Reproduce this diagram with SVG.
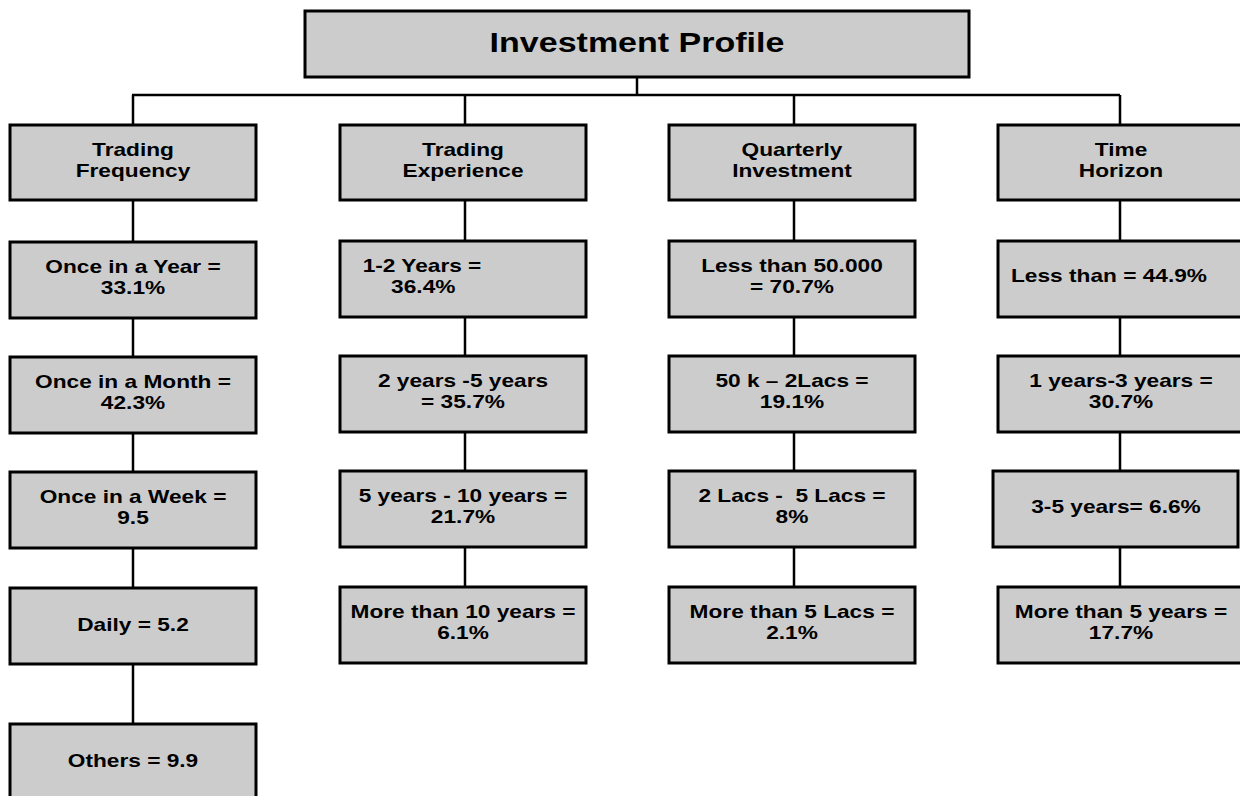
<svg xmlns="http://www.w3.org/2000/svg" width="1240" height="796" viewBox="0 0 1240 796">
  <style>
    .box { fill: #cccccc; stroke: #000000; stroke-width: 3; }
    .lbl { font-family: "Liberation Sans", Arial, sans-serif; font-weight: bold; font-size: 18px; text-anchor: middle; fill: #000000; }
    .title { font-size: 27px; }
    .conn { fill: none; stroke: #000000; stroke-width: 2.5; }
  </style>
  <rect width="1240" height="796" fill="#ffffff"/>

  <g id="connectors" class="conn">
    <path d="M637 77 V95 M132 95 H1120 M133 95 V125 M465 95 V125 M794 95 V125 M1120 95 V125"/>
    <path d="M133 200 V242 M133 318 V357 M133 433 V472 M133 548 V588 M133 664 V724"/>
    <path d="M465 200 V241 M465 317 V356 M465 432 V471 M465 547 V587"/>
    <path d="M794 200 V241 M794 317 V356 M794 432 V471 M794 547 V587"/>
    <path d="M1120 200 V241 M1120 317 V356 M1120 432 V471 M1120 547 V587"/>
  </g>

  <g id="root">
    <rect class="box" x="305" y="11" width="664" height="66"/>
    <text class="lbl title" transform="translate(637 0) scale(1.26 1)"><tspan x="0" y="52">Investment Profile</tspan></text>
  </g>

  <!-- Trading Frequency column -->
  <g id="trading-frequency">
    <rect class="box" x="10" y="125" width="246" height="75"/>
    <text class="lbl" transform="translate(133 0) scale(1.26 1)"><tspan x="0" y="156">Trading</tspan><tspan x="0" y="177">Frequency</tspan></text>
  </g>
  <g id="tf-year">
    <rect class="box" x="10" y="242" width="246" height="76"/>
    <text class="lbl" transform="translate(133 0) scale(1.26 1)"><tspan x="0" y="273">Once in a Year =</tspan><tspan x="0" y="294">33.1%</tspan></text>
  </g>
  <g id="tf-month">
    <rect class="box" x="10" y="357" width="246" height="76"/>
    <text class="lbl" transform="translate(133 0) scale(1.26 1)"><tspan x="0" y="388">Once in a Month =</tspan><tspan x="0" y="409">42.3%</tspan></text>
  </g>
  <g id="tf-week">
    <rect class="box" x="10" y="472" width="246" height="76"/>
    <text class="lbl" transform="translate(133 0) scale(1.26 1)"><tspan x="0" y="503">Once in a Week =</tspan><tspan x="0" y="524">9.5</tspan></text>
  </g>
  <g id="tf-daily">
    <rect class="box" x="10" y="588" width="246" height="76"/>
    <text class="lbl" transform="translate(133 0) scale(1.26 1)"><tspan x="0" y="631">Daily = 5.2</tspan></text>
  </g>
  <g id="tf-others">
    <rect class="box" x="10" y="724" width="246" height="76"/>
    <text class="lbl" transform="translate(133 0) scale(1.26 1)"><tspan x="0" y="767">Others = 9.9</tspan></text>
  </g>

  <!-- Trading Experience column -->
  <g id="trading-experience">
    <rect class="box" x="340" y="125" width="246" height="75"/>
    <text class="lbl" transform="translate(463 0) scale(1.26 1)"><tspan x="0" y="156">Trading</tspan><tspan x="0" y="177">Experience</tspan></text>
  </g>
  <g id="te-1-2">
    <rect class="box" x="340" y="241" width="246" height="76"/>
    <text class="lbl" transform="translate(422 0) scale(1.26 1)"><tspan x="0" y="272">1-2 Years =</tspan><tspan x="1" y="293">36.4%</tspan></text>
  </g>
  <g id="te-2-5">
    <rect class="box" x="340" y="356" width="246" height="76"/>
    <text class="lbl" transform="translate(463 0) scale(1.26 1)"><tspan x="0" y="387">2 years -5 years</tspan><tspan x="0" y="408">= 35.7%</tspan></text>
  </g>
  <g id="te-5-10">
    <rect class="box" x="340" y="471" width="246" height="76"/>
    <text class="lbl" transform="translate(463 0) scale(1.26 1)"><tspan x="0" y="502">5 years - 10 years =</tspan><tspan x="0" y="523">21.7%</tspan></text>
  </g>
  <g id="te-10plus">
    <rect class="box" x="340" y="587" width="246" height="76"/>
    <text class="lbl" transform="translate(463 0) scale(1.26 1)"><tspan x="0" y="618">More than 10 years =</tspan><tspan x="0" y="639">6.1%</tspan></text>
  </g>

  <!-- Quarterly Investment column -->
  <g id="quarterly-investment">
    <rect class="box" x="669" y="125" width="246" height="75"/>
    <text class="lbl" transform="translate(792 0) scale(1.26 1)"><tspan x="0" y="156">Quarterly</tspan><tspan x="0" y="177">Investment</tspan></text>
  </g>
  <g id="qi-50k">
    <rect class="box" x="669" y="241" width="246" height="76"/>
    <text class="lbl" transform="translate(792 0) scale(1.26 1)"><tspan x="0" y="272">Less than 50.000</tspan><tspan x="0" y="293">= 70.7%</tspan></text>
  </g>
  <g id="qi-50k-2l">
    <rect class="box" x="669" y="356" width="246" height="76"/>
    <text class="lbl" transform="translate(792 0) scale(1.26 1)"><tspan x="0" y="387">50 k – 2Lacs =</tspan><tspan x="0" y="408">19.1%</tspan></text>
  </g>
  <g id="qi-2l-5l">
    <rect class="box" x="669" y="471" width="246" height="76"/>
    <text class="lbl" transform="translate(792 0) scale(1.26 1)"><tspan x="0" y="502">2 Lacs - &#160;5 Lacs =</tspan><tspan x="0" y="523">8%</tspan></text>
  </g>
  <g id="qi-5lplus">
    <rect class="box" x="669" y="587" width="246" height="76"/>
    <text class="lbl" transform="translate(792 0) scale(1.26 1)"><tspan x="0" y="618">More than 5 Lacs =</tspan><tspan x="0" y="639">2.1%</tspan></text>
  </g>

  <!-- Time Horizon column -->
  <g id="time-horizon">
    <rect class="box" x="998" y="125" width="246" height="75"/>
    <text class="lbl" transform="translate(1121 0) scale(1.26 1)"><tspan x="0" y="156">Time</tspan><tspan x="0" y="177">Horizon</tspan></text>
  </g>
  <g id="th-less">
    <rect class="box" x="998" y="241" width="246" height="76"/>
    <text class="lbl" transform="translate(1109 0) scale(1.26 1)"><tspan x="0" y="282">Less than = 44.9%</tspan></text>
  </g>
  <g id="th-1-3">
    <rect class="box" x="998" y="356" width="246" height="76"/>
    <text class="lbl" transform="translate(1121 0) scale(1.26 1)"><tspan x="0" y="387">1 years-3 years =</tspan><tspan x="0" y="408">30.7%</tspan></text>
  </g>
  <g id="th-3-5">
    <rect class="box" x="993" y="471" width="245" height="76"/>
    <text class="lbl" transform="translate(1116 0) scale(1.26 1)"><tspan x="0" y="513">3-5 years= 6.6%</tspan></text>
  </g>
  <g id="th-5plus">
    <rect class="box" x="998" y="587" width="246" height="76"/>
    <text class="lbl" transform="translate(1121 0) scale(1.26 1)"><tspan x="0" y="618">More than 5 years =</tspan><tspan x="0" y="639">17.7%</tspan></text>
  </g>
</svg>
